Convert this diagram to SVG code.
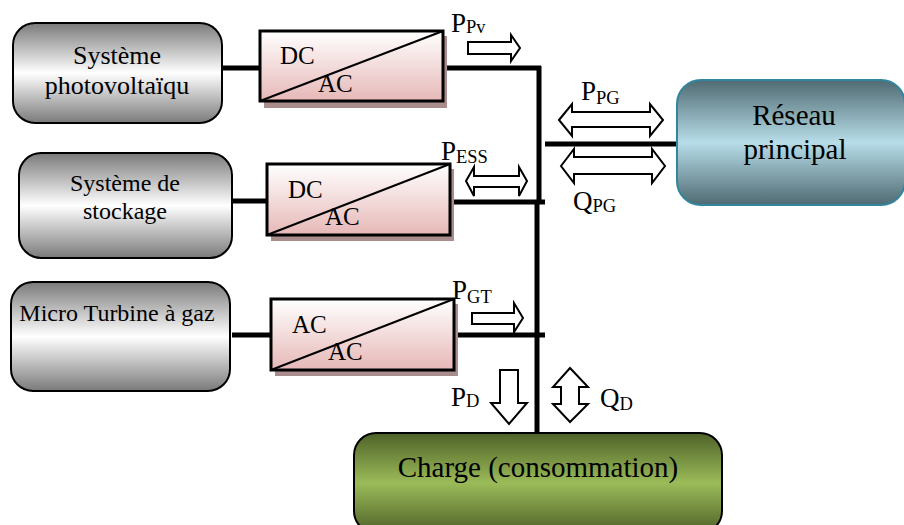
<svg xmlns="http://www.w3.org/2000/svg" width="904" height="525" viewBox="0 0 904 525">
<style>
text{font-family:"Liberation Serif","Times New Roman",serif;fill:#000}
.box{stroke:#000;stroke-width:2}
.conv{fill:url(#conv);stroke:#000;stroke-width:3}
.shadow{fill:#a98c8c}
.diag{stroke:#000;stroke-width:2;fill:none}
.wire{stroke:#000;stroke-width:5;fill:none}
.arrow{fill:#fff;stroke:#000;stroke-width:2}
.l{font-size:27px}
.s{font-size:18.5px}
.k{font-size:25px}
</style>
<defs>
<linearGradient id="grey" x1="0" y1="0" x2="0" y2="1"><stop offset="0" stop-color="#7a7a7a"/><stop offset=".5" stop-color="#fff"/><stop offset="1" stop-color="#7a7a7a"/></linearGradient>
<linearGradient id="blue" x1="0" y1="0" x2="0" y2="1"><stop offset="0" stop-color="#4f6a72"/><stop offset=".5" stop-color="#b7dde8"/><stop offset="1" stop-color="#4f6a72"/></linearGradient>
<linearGradient id="green" x1="0" y1="0" x2="0" y2="1"><stop offset="0" stop-color="#4f6228"/><stop offset=".5" stop-color="#9bbb59"/><stop offset="1" stop-color="#4f6228"/></linearGradient>
<linearGradient id="conv" x1="0" y1="0" x2="0" y2="1"><stop offset="0" stop-color="#fff"/><stop offset="1" stop-color="#e6b8b7"/></linearGradient>
</defs>
<g id="connectors">
<path class="wire" d="M222 68H260M443 68H541M539 66V200M537 200V433M232 201H267M451 202H545M232 335H271M454 335H545M545 144H677"/>
</g>
<g id="node-pv">
<rect class="box" x="13" y="23" width="209" height="100" rx="22" fill="url(#grey)"/>
<text x="117" y="64" font-size="26" text-anchor="middle">Système</text>
<text x="117" y="94" font-size="26" text-anchor="middle">photovoltaïqu</text>
</g>
<g id="node-stockage">
<rect class="box" x="19" y="153" width="213" height="105" rx="22" fill="url(#grey)"/>
<text x="125" y="191" font-size="24" text-anchor="middle">Système de</text>
<text x="125" y="219" font-size="24" text-anchor="middle">stockage</text>
</g>
<g id="node-turbine">
<rect class="box" x="11" y="282" width="219" height="109" rx="22" fill="url(#grey)"/>
<text x="117" y="321" font-size="24" text-anchor="middle">Micro Turbine à gaz</text>
</g>
<g id="node-reseau">
<rect x="677" y="80" width="228" height="125" rx="24" fill="url(#blue)" stroke="#31859c" stroke-width="2"/>
<text x="794" y="125" font-size="29" text-anchor="middle">Réseau</text>
<text x="795" y="159" font-size="29" text-anchor="middle">principal</text>
</g>
<g id="node-charge">
<rect x="354" y="433" width="368" height="100" rx="22" fill="url(#green)" stroke="#000" stroke-width="2"/>
<text x="538" y="477" font-size="29" text-anchor="middle">Charge (consommation)</text>
</g>
<g id="conv-pv">
<rect class="shadow" x="264" y="36" width="183" height="72"/>
<rect class="conv" x="260" y="31" width="183" height="70"/>
<path class="diag" d="M260 101L443 31"/>
<text class="k" x="280" y="64">DC</text>
<text class="k" x="318" y="92">AC</text>
</g>
<g id="conv-ess">
<rect class="shadow" x="271" y="169" width="183" height="72"/>
<rect class="conv" x="267" y="164" width="183" height="71"/>
<path class="diag" d="M267 235L450 164"/>
<text class="k" x="288" y="198">DC</text>
<text class="k" x="325" y="225">AC</text>
</g>
<g id="conv-gt">
<rect class="shadow" x="275" y="304" width="183" height="72"/>
<rect class="conv" x="271" y="299" width="183" height="71"/>
<path class="diag" d="M271 370L454 299"/>
<text class="k" x="292" y="333">AC</text>
<text class="k" x="328" y="360">AC</text>
</g>
<g id="flow-ppv">
<path class="arrow" d="M468 42H511V35L520 48L511 61V54H468Z"/>
<text class="l" x="451" y="32">P<tspan class="s" dy="1">Pv</tspan></text>
</g>
<g id="flow-pess">
<path class="arrow" d="M466 181L474 167V176H519V167L527 181L519 196V187H474V196Z"/>
<text class="l" x="441" y="160">P<tspan class="s" dy="3">ESS</tspan></text>
</g>
<g id="flow-pgt">
<path class="arrow" d="M472 313H514V303L523 318L514 332V324H472Z"/>
<text class="l" x="452" y="299">P<tspan class="s" dy="4">GT</tspan></text>
</g>
<g id="flow-ppg">
<path class="arrow" d="M559 120L572 104V112H650V104L663 120L650 136V127H572V136Z"/>
<text class="l" x="581" y="100">P<tspan class="s" dy="4">PG</tspan></text>
</g>
<g id="flow-qpg">
<path class="arrow" d="M561 166L574 149V157H652V149L665 166L652 183V174H574V183Z"/>
<text class="l" x="573" y="210">Q<tspan class="s" dy="2">PG</tspan></text>
</g>
<g id="flow-pd">
<path class="arrow" d="M500 370H518V403H527L509 424L491 403H500Z"/>
<text class="l" x="451" y="406">P<tspan class="s" dy="1">D</tspan></text>
</g>
<g id="flow-qd">
<path class="arrow" d="M570 368L588 387H579V404H588L570 422L553 404H561V387H553Z"/>
<text class="l" x="600" y="407">Q<tspan class="s" dy="3">D</tspan></text>
</g>
</svg>
